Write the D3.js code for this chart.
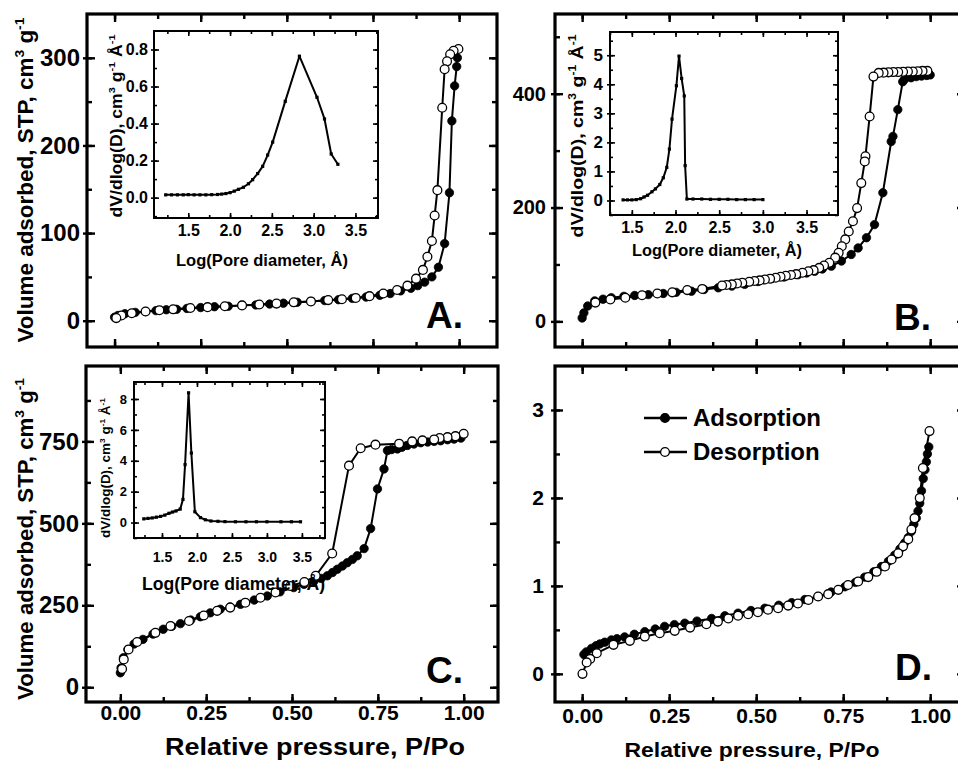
<!DOCTYPE html>
<html>
<head>
<meta charset="utf-8">
<script src="https://cdn.jsdelivr.net/npm/d3@7"></script>
<style>
  body { margin: 0; background: #fff; }
  svg { display: block; font-family: "Liberation Sans", Arial, sans-serif; font-weight: bold; }
</style>
</head>
<body>
<svg id="chart" width="958" height="761"></svg>
<script>
// ---- isotherm data: [P/Po, volume] ----
let adsA = [[0.0,4],[0.01,6],[0.03,8],[0.06,9.5],[0.09,10.5],[0.12,11.5],[0.15,12.5],[0.18,13],[0.21,14],[0.25,15],[0.29,16],[0.33,16.5],[0.37,17.5],[0.41,18],[0.45,19],[0.49,20],[0.53,21],[0.57,22],[0.61,23],[0.65,24],[0.69,25.5],[0.73,27],[0.77,29],[0.8,31],[0.83,34],[0.86,37],[0.88,40],[0.9,44],[0.921,50],[0.94,61],[0.958,88],[0.972,146],[0.979,228],[0.987,268],[0.993,290],[0.995,300]];
let desA = [[0.998,310],[0.984,308],[0.974,304],[0.965,296],[0.958,287],[0.951,243],[0.937,149],[0.929,120],[0.921,91],[0.908,73],[0.895,58],[0.875,48],[0.85,40],[0.82,35],[0.78,31],[0.74,28],[0.7,26],[0.66,24.5],[0.62,23.5],[0.57,22],[0.52,21],[0.47,19.5],[0.42,18.5],[0.37,17.5],[0.32,16.5],[0.27,15.5],[0.22,14.5],[0.17,13],[0.13,12],[0.09,10.5],[0.05,8.5],[0.02,6],[0.005,3]];

let adsB = [[0.0,6],[0.005,15],[0.016,27],[0.036,36],[0.06,39],[0.084,41.5],[0.12,44],[0.151,45.6],[0.19,47],[0.233,49],[0.27,51],[0.314,53],[0.35,56],[0.391,59],[0.43,62],[0.467,65],[0.505,70],[0.544,75],[0.58,78],[0.62,82],[0.645,85],[0.668,88],[0.69,92],[0.716,97],[0.745,106],[0.773,117.5],[0.793,129],[0.817,147],[0.84,170],[0.864,226],[0.888,316],[0.893,325],[0.907,372],[0.921,421],[0.926,425],[0.945,428],[0.96,430],[0.975,431],[0.99,432],[1.0,433]];
let desB = [[0.992,440],[0.978,440],[0.964,439.5],[0.95,439],[0.936,439],[0.922,438.5],[0.908,438],[0.894,438],[0.88,437.5],[0.866,437],[0.852,436.5],[0.837,430],[0.826,360],[0.814,290],[0.812,281],[0.802,243],[0.79,199],[0.778,176],[0.766,158],[0.756,144],[0.746,132],[0.737,120.5],[0.727,112],[0.71,103],[0.695,98],[0.681,94],[0.665,90],[0.65,88],[0.633,85.4],[0.615,83],[0.6,81.5],[0.585,80],[0.57,78.5],[0.556,76.6],[0.54,75],[0.525,73.5],[0.51,72],[0.495,71],[0.48,69.5],[0.46,68],[0.445,66.5],[0.43,65],[0.415,64],[0.402,63],[0.345,57],[0.302,55],[0.259,51],[0.216,49],[0.172,46],[0.124,41.5],[0.081,38.6],[0.038,33]];

let adsC = [[0.0,44],[0.002,59],[0.009,90],[0.022,115],[0.04,132],[0.066,146],[0.095,162],[0.125,177],[0.15,186],[0.175,194],[0.205,205],[0.233,215],[0.262,227],[0.291,238],[0.32,245],[0.35,253],[0.39,266],[0.428,278.5],[0.465,291],[0.505,304],[0.535,314],[0.564,324],[0.585,332],[0.603,340],[0.618,350],[0.632,360],[0.647,370],[0.661,380],[0.676,390],[0.69,401],[0.71,423],[0.729,484],[0.749,605],[0.768,666],[0.778,722],[0.79,725],[0.807,727],[0.82,732],[0.836,737.7],[0.855,742],[0.875,746],[0.895,748],[0.914,750],[0.933,752],[0.953,755],[0.972,757],[0.992,760]];
let desC = [[1.0,773],[0.976,766],[0.953,763],[0.93,760],[0.914,756],[0.88,753],[0.85,750],[0.812,743],[0.743,740],[0.7,729],[0.666,676],[0.617,408],[0.569,340],[0.536,321],[0.495,309],[0.452,289],[0.408,273],[0.364,258],[0.32,243],[0.282,233],[0.243,219],[0.2,202],[0.146,187],[0.102,166],[0.049,138],[0.024,115],[0.01,85],[0.005,56]];

let adsD = [[0.005,0.22],[0.012,0.25],[0.027,0.29],[0.04,0.32],[0.051,0.34],[0.065,0.36],[0.084,0.386],[0.1,0.4],[0.122,0.42],[0.15,0.45],[0.18,0.48],[0.21,0.51],[0.237,0.54],[0.265,0.56],[0.295,0.576],[0.33,0.6],[0.372,0.63],[0.41,0.66],[0.448,0.69],[0.485,0.72],[0.525,0.746],[0.565,0.78],[0.602,0.81],[0.64,0.845],[0.678,0.88],[0.715,0.93],[0.755,0.99],[0.785,1.04],[0.812,1.1],[0.838,1.16],[0.86,1.22],[0.88,1.28],[0.898,1.35],[0.913,1.42],[0.927,1.49],[0.937,1.55],[0.946,1.62],[0.953,1.7],[0.96,1.77],[0.965,1.85],[0.97,1.94],[0.975,2.08],[0.98,2.22],[0.985,2.32],[0.989,2.41],[0.992,2.5],[0.996,2.58]];
let desD = [[0.998,2.76],[0.979,2.34],[0.97,2.0],[0.955,1.77],[0.946,1.64],[0.937,1.53],[0.922,1.45],[0.908,1.37],[0.889,1.3],[0.87,1.22],[0.846,1.16],[0.822,1.1],[0.793,1.05],[0.764,1.01],[0.736,0.955],[0.707,0.906],[0.678,0.88],[0.65,0.84],[0.62,0.8],[0.592,0.776],[0.563,0.746],[0.534,0.73],[0.505,0.7],[0.477,0.678],[0.448,0.66],[0.42,0.63],[0.39,0.594],[0.357,0.565],[0.31,0.526],[0.266,0.489],[0.223,0.462],[0.18,0.424],[0.137,0.375],[0.09,0.33],[0.042,0.235],[0.023,0.17],[0.013,0.13],[0.001,0.0]];

// ---- pore size distributions: [log D, dV/dlogD] ----
let psdA = [[1.23,0.015],[1.3,0.015],[1.37,0.015],[1.44,0.015],[1.5,0.016],[1.57,0.015],[1.64,0.015],[1.71,0.015],[1.78,0.016],[1.85,0.017],[1.9,0.019],[1.95,0.022],[2.0,0.027],[2.05,0.035],[2.1,0.045],[2.16,0.056],[2.22,0.075],[2.27,0.097],[2.33,0.13],[2.39,0.169],[2.45,0.23],[2.51,0.3],[2.66,0.52],[2.83,0.764],[3.04,0.542],[3.13,0.425],[3.21,0.236],[3.29,0.18]];
let psdB = [[1.4,0.02],[1.45,0.02],[1.5,0.02],[1.55,0.03],[1.6,0.06],[1.64,0.12],[1.68,0.18],[1.73,0.3],[1.77,0.4],[1.82,0.55],[1.86,0.78],[1.9,1.14],[1.93,1.77],[1.96,2.8],[2.01,3.95],[2.04,4.97],[2.07,4.2],[2.1,3.6],[2.11,1.2],[2.13,0.05],[2.2,0.05],[2.3,0.05],[2.4,0.04],[2.5,0.04],[2.6,0.04],[2.7,0.03],[2.8,0.03],[2.9,0.03],[3.0,0.03]];
let psdC = [[1.24,0.24],[1.3,0.27],[1.36,0.3],[1.42,0.35],[1.48,0.4],[1.54,0.48],[1.6,0.6],[1.65,0.68],[1.7,0.75],[1.76,0.87],[1.8,1.5],[1.83,3.75],[1.88,8.4],[1.92,4.5],[1.97,0.7],[2.05,0.32],[2.12,0.18],[2.2,0.1],[2.3,0.08],[2.4,0.06],[2.55,0.05],[2.7,0.05],[2.85,0.05],[3.0,0.05],[3.2,0.05],[3.35,0.05],[3.48,0.05]];

// ---- tick labels ----
let pressureTicks = [0, 0.25, 0.5, 0.75, 1];
let logTicks = [1.5, 2.0, 2.5, 3.0, 3.5];
let volTicksA = [0, 100, 200, 300];
let volTicksB = [0, 200, 400];
let volTicksC = [0, 250, 500, 750];
let volTicksD = [0, 1, 2, 3];
let psdTicksA = [0, 0.2, 0.4, 0.6, 0.8];
let psdTicksB = [0, 1, 2, 3, 4, 5];
let psdTicksC = [0, 2, 4, 6, 8];
let legendNames = ["Adsorption", "Desorption"];

const svg = d3.select("#chart");

function minorValues(domain, step) {
  let start = Math.ceil(domain[0] / step) * step;
  return d3.range(start, domain[1], step).map(v => +v.toFixed(6));
}

function addAxis(g, axisFn, scale, values, size, pad, translate, labels, fmt, fontSize, width) {
  let a = axisFn(scale).tickValues(values).tickSize(size).tickPadding(pad);
  a.tickFormat(labels ? d3.format(fmt) : "");
  let s = g.append("g")
    .attr("transform", "translate(" + translate[0] + "," + translate[1] + ")")
    .call(a)
    .attr("font-family", null)
    .attr("font-size", fontSize);
  s.select(".domain").remove();
  s.selectAll("line").attr("stroke", "#000").attr("stroke-width", width);
  s.selectAll("text").attr("fill", "#000");
}

function frame(o) {
  let x = d3.scaleLinear().domain(o.xDomain).range([o.left, o.right]);
  let y = d3.scaleLinear().domain(o.yDomain).range([o.bottom, o.top]);
  let g = svg.append("g");
  g.append("rect")
    .attr("x", o.left).attr("y", o.top)
    .attr("width", o.right - o.left).attr("height", o.bottom - o.top)
    .attr("fill", "#fff");
  let big = o.major, small = o.minor, tw = o.tickWidth;
  let xm = minorValues(o.xDomain, o.xMinor), ym = minorValues(o.yDomain, o.yMinor);
  // bottom
  addAxis(g, d3.axisBottom, x, xm, -small, 0, [0, o.bottom], false, "", 10, tw);
  addAxis(g, d3.axisBottom, x, o.xTicks, -big, o.xPad, [0, o.bottom], o.xLabels, o.xFmt, o.xFont, tw);
  // top
  addAxis(g, d3.axisTop, x, xm, -small, 0, [0, o.top], false, "", 10, tw);
  addAxis(g, d3.axisTop, x, o.xTicks, -big, 0, [0, o.top], false, "", 10, tw);
  // left: major ticks cross the frame
  addAxis(g, d3.axisLeft, y, ym, -small, 0, [o.left, 0], false, "", 10, tw);
  addAxis(g, d3.axisLeft, y, o.yTicks, -big, 0, [o.left, 0], false, "", 10, tw);
  addAxis(g, d3.axisLeft, y, o.yTicks, o.out, o.yPad, [o.left, 0], true, o.yFmt, o.yFont, tw);
  // right
  addAxis(g, d3.axisRight, y, ym, -small, 0, [o.right, 0], false, "", 10, tw);
  addAxis(g, d3.axisRight, y, o.yTicks, -big, 0, [o.right, 0], false, "", 10, tw);
  g.append("rect")
    .attr("x", o.left).attr("y", o.top)
    .attr("width", o.right - o.left).attr("height", o.bottom - o.top)
    .attr("fill", "none").attr("stroke", "#000").attr("stroke-width", o.frameWidth);
  return { g: g, x: x, y: y };
}

function isotherm(p, data, filled) {
  let line = d3.line().x(d => p.x(d[0])).y(d => p.y(d[1]));
  p.g.append("path").datum(data)
    .attr("fill", "none").attr("stroke", "#000").attr("stroke-width", 2)
    .attr("stroke-linejoin", "round").attr("d", line);
  p.g.selectAll(null).data(data).enter().append("circle")
    .attr("cx", d => p.x(d[0])).attr("cy", d => p.y(d[1]))
    .attr("r", filled ? 4.2 : 4.4)
    .attr("fill", filled ? "#000" : "#fff")
    .attr("stroke", "#000").attr("stroke-width", filled ? 0.8 : 1.3);
}

function psd(p, data) {
  let line = d3.line().x(d => p.x(d[0])).y(d => p.y(d[1]));
  p.g.append("path").datum(data)
    .attr("fill", "none").attr("stroke", "#000").attr("stroke-width", 2)
    .attr("stroke-linejoin", "round").attr("d", line);
  p.g.selectAll(null).data(data).enter().append("rect")
    .attr("x", d => p.x(d[0]) - 1.6).attr("y", d => p.y(d[1]) - 1.6)
    .attr("width", 3.2).attr("height", 3.2).attr("fill", "#000");
}

// text with superscripts: parts = [[text, isSup], ...]
function richText(g, parts, x, y, size, rotate, anchor, length) {
  let t = g.append("text")
    .attr("font-size", size)
    .attr("text-anchor", anchor)
    .attr("transform", "translate(" + x + "," + y + ")" + (rotate ? " rotate(-90)" : ""));
  let raised = false;
  parts.forEach(pp => {
    let s = t.append("tspan").text(pp[0]);
    if (pp[1]) {
      s.attr("font-size", size * 0.62).attr("dy", -size * 0.42);
      raised = true;
    } else if (raised) {
      s.attr("dy", size * 0.42);
      raised = false;
    }
  });
  if (length) t.attr("textLength", length).attr("lengthAdjust", "spacingAndGlyphs");
  return t;
}

let mainStyle = { major: 8, minor: 5, out: 4, tickWidth: 2.4, frameWidth: 3.2, xMinor: 0.125, xTicks: pressureTicks, xFmt: ".2f", xFont: 21, yPad: 3 };
let insetStyle = { major: 5, minor: 3, out: 3, tickWidth: 1.6, frameWidth: 2, xMinor: 0.25, xTicks: logTicks, xFmt: ".1f", yPad: 3, xLabels: true };

let pA = frame(Object.assign({}, mainStyle, { left: 87, right: 497, top: 14, bottom: 347, xDomain: [-0.08, 1.11], yDomain: [-30, 350], yTicks: volTicksA, yMinor: 50, yFmt: "d", yFont: 24, xLabels: false, xPad: 0 }));
let pB = frame(Object.assign({}, mainStyle, { left: 555, right: 965, top: 14, bottom: 347, xDomain: [-0.078, 1.1], yDomain: [-45, 540], yTicks: volTicksB, yMinor: 100, yFmt: "d", yFont: 20, xLabels: false, xPad: 0, yPad: 5 }));
let pC = frame(Object.assign({}, mainStyle, { left: 86, right: 498, top: 366, bottom: 702, xDomain: [-0.1, 1.1], yDomain: [-45, 980], yTicks: volTicksC, yMinor: 125, yFmt: "d", yFont: 24, xLabels: true, xPad: 3 }));
let pD = frame(Object.assign({}, mainStyle, { left: 555, right: 965, top: 366, bottom: 702, xDomain: [-0.078, 1.1], yDomain: [-0.32, 3.5], yTicks: volTicksD, yMinor: 0.5, yFmt: "d", yFont: 21, xLabels: true, xPad: 6, yPad: 7 }));

isotherm(pA, adsA, true); isotherm(pA, desA, false);
isotherm(pB, adsB, true); isotherm(pB, desB, false);
isotherm(pC, adsC, true); isotherm(pC, desC, false);
isotherm(pD, adsD, true); isotherm(pD, desD, false);

// insets
let iA = frame(Object.assign({}, insetStyle, { left: 154, right: 378, top: 31, bottom: 218, xDomain: [1.09, 3.77], yDomain: [-0.11, 0.9], yTicks: psdTicksA, yMinor: 0.1, yFmt: ".1f", yFont: 16, xFont: 16, xPad: 7 }));
let iB = frame(Object.assign({}, insetStyle, { left: 610, right: 838, top: 32, bottom: 215, xDomain: [1.25, 3.86], yDomain: [-0.5, 5.8], yTicks: psdTicksB, yMinor: 0.5, yFmt: "d", yFont: 17, xFont: 16, xPad: 6.5, yPad: 4 }));
let iC = frame(Object.assign({}, insetStyle, { left: 134, right: 325, top: 382, bottom: 538, xDomain: [1.1, 3.83], yDomain: [-1, 9.1], yTicks: psdTicksC, yMinor: 1, yFmt: "d", yFont: 13, xFont: 14, xPad: 14, yPad: 4 }));
psd(iA, psdA); psd(iB, psdB); psd(iC, psdC);

// axis titles
let volTitle = [["Volume adsorbed, STP, cm", 0], ["3", 1], [" g", 0], ["-1", 1]];
let psdTitle = [["dV/dlog(D), cm", 0], ["3", 1], [" g", 0], ["-1", 1], [" \u00C5", 0], ["-1", 1]];
let poreTitle = [["Log(Pore diameter, \u00C5)", 0]];
let pressTitle = [["Relative pressure, P/Po", 0]];

richText(svg, volTitle, 33, 180, 22, true, "middle", 325);
richText(svg, volTitle, 33, 539, 22, true, "middle", 322);
richText(svg, pressTitle, 315, 755, 24, false, "middle", 300);
richText(svg, pressTitle, 752, 757, 21, false, "middle", 255);

richText(svg, psdTitle, 122, 126, 16, true, "middle", 183);
richText(svg, psdTitle, 583, 136, 17, true, "middle", 203);
richText(svg, psdTitle, 110, 468, 13, true, "middle", 140);
richText(svg, poreTitle, 262, 266, 16.5, false, "middle", 172);
richText(svg, poreTitle, 717, 256, 16, false, "middle", 170);
richText(svg, poreTitle, 233.5, 590, 19, false, "middle", 183);

// panel letters
[[pA, "A.", 34, 19], [pB, "B.", 34, 17], [pC, "C.", 35, 19], [pD, "D.", 33, 22]].forEach(l => {
  let r = l[0].x.range(), b = l[0].y.range()[0];
  l[0].g.append("text").attr("x", r[1] - l[2]).attr("y", b - l[3])
    .attr("text-anchor", "end").attr("font-size", 37).text(l[1]);
});

// legend in panel D
let leg = pD.g.append("g").attr("transform", "translate(644,418)");
legendNames.forEach((name, i) => {
  let row = leg.append("g").attr("transform", "translate(0," + i * 34 + ")");
  row.append("line").attr("x1", 0).attr("x2", 43).attr("y1", 0).attr("y2", 0)
    .attr("stroke", "#000").attr("stroke-width", 2.4);
  row.append("circle").attr("cx", 21).attr("cy", 0).attr("r", 4.4)
    .attr("fill", i === 0 ? "#000" : "#fff").attr("stroke", "#000").attr("stroke-width", 1.3);
  row.append("text").attr("x", 49).attr("y", 8).attr("font-size", 24).text(name);
});
</script>
</body>
</html>
